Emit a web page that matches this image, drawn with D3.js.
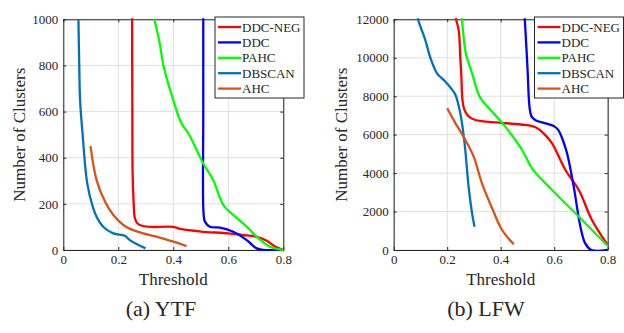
<!DOCTYPE html>
<html>
<head>
<meta charset="utf-8">
<script src="https://cdn.jsdelivr.net/npm/d3@7"></script>
<style>
  body { margin: 0; background: #fff; }
  svg text { font-family: "Liberation Serif", "DejaVu Serif", serif; fill: #262626; }
</style>
</head>
<body>
<svg id="chart" width="624" height="333"></svg>
<script>
// series names and colours (same for both panels)
const seriesNames = ["DDC-NEG", "DDC", "PAHC", "DBSCAN", "AHC"];
const seriesColors = ["#ff0000", "#0000ff", "#00ff00", "#0072bd", "#d95319"];

const xTicks = [0, 0.2, 0.4, 0.6, 0.8];
const ytfYTicks = [0, 200, 400, 600, 800, 1000];
const lfwYTicks = [0, 2000, 4000, 6000, 8000, 10000, 12000];

// YTF: [threshold, number of clusters]
const ytfDdcNeg = [[0.25, 1100], [0.251, 600], [0.252, 340], [0.256, 200], [0.26, 140], [0.27, 115], [0.29, 104], [0.32, 100], [0.4, 100], [0.43, 90], [0.5, 80], [0.6, 72], [0.65, 65], [0.7, 58], [0.74, 40], [0.77, 15], [0.8, 0]];
const ytfDdc = [[0.509, 1100], [0.509, 600], [0.51, 160], [0.515, 123], [0.533, 101], [0.57, 97], [0.618, 79], [0.667, 43], [0.703, 7], [0.727, 0], [0.78, 0]];
const ytfPahc = [[0.331, 1000], [0.35, 900], [0.364, 801], [0.4, 649], [0.43, 548], [0.455, 505], [0.509, 375], [0.545, 303], [0.582, 195], [0.618, 152], [0.667, 101], [0.709, 51], [0.752, 14], [0.8, 0]];
const ytfDbscan = [[0.055, 1000], [0.058, 800], [0.061, 649], [0.07, 505], [0.087, 289], [0.107, 188], [0.121, 144], [0.145, 101], [0.182, 72], [0.224, 62], [0.242, 43], [0.299, 7]];
const ytfAhc = [[0.099, 450], [0.121, 303], [0.152, 209], [0.182, 152], [0.228, 101], [0.291, 72], [0.339, 58], [0.4, 36], [0.448, 17]];

// LFW
const lfwDdcNeg = [[0.23, 12300], [0.233, 12000], [0.243, 11444], [0.249, 10000], [0.253, 9000], [0.257, 7800], [0.264, 7300], [0.28, 6950], [0.305, 6763], [0.393, 6624], [0.492, 6503], [0.535, 6350], [0.565, 6000], [0.592, 5549], [0.642, 4162], [0.692, 3121], [0.741, 1561], [0.8, 260]];
const lfwDdc = [[0.488, 12300], [0.49, 12000], [0.5, 9500], [0.508, 7400], [0.515, 6950], [0.53, 6750], [0.567, 6589], [0.598, 6451], [0.615, 6250], [0.63, 5800], [0.648, 5029], [0.673, 3295], [0.698, 1214], [0.716, 347], [0.739, 0], [0.8, 0]];
const lfwPahc = [[0.253, 12300], [0.255, 12000], [0.262, 11000], [0.27, 10200], [0.293, 9190], [0.318, 8063], [0.335, 7700], [0.361, 7300], [0.417, 6416], [0.48, 5202], [0.517, 4248], [0.592, 3121], [0.692, 1734], [0.8, 208]];
const lfwDbscan = [[0.088, 12300], [0.091, 12000], [0.118, 10924], [0.137, 10000], [0.162, 9190], [0.19, 8800], [0.215, 8400], [0.231, 8063], [0.249, 7109], [0.265, 5549], [0.28, 3295], [0.293, 1907], [0.302, 1214]];
const lfwAhc = [[0.2, 7370], [0.231, 6589], [0.268, 5722], [0.299, 4855], [0.33, 3468], [0.368, 2168], [0.405, 1040], [0.449, 295]];

const svg = d3.select("#chart");
const serif = "'Liberation Serif', 'DejaVu Serif', serif";

function drawPanel(p) {
  const x = d3.scaleLinear().domain([0, 0.8]).range([p.left, p.right]);
  const y = d3.scaleLinear().domain([0, p.yMax]).range([p.bottom, p.top]);
  const g = svg.append("g").attr("font-family", serif);

  // grid
  g.selectAll(".gx").data(xTicks).enter().append("line")
    .attr("x1", d => x(d)).attr("x2", d => x(d))
    .attr("y1", p.top).attr("y2", p.bottom)
    .attr("stroke", "#dfdfdf").attr("stroke-width", 1);
  g.selectAll(".gy").data(p.yTicks).enter().append("line")
    .attr("x1", p.left).attr("x2", p.right)
    .attr("y1", d => y(d)).attr("y2", d => y(d))
    .attr("stroke", "#dfdfdf").attr("stroke-width", 1);

  // axes with inward ticks
  const axB = g.append("g").attr("transform", "translate(0," + p.bottom + ")")
    .call(d3.axisBottom(x).tickValues(xTicks).tickSizeInner(-3).tickSizeOuter(0).tickPadding(5)
      .tickFormat(d => d === 0 ? "0" : d3.format(".1f")(d)));
  const axT = g.append("g").attr("transform", "translate(0," + p.top + ")")
    .call(d3.axisTop(x).tickValues(xTicks).tickSizeInner(-3).tickSizeOuter(0).tickFormat(""));
  const axL = g.append("g").attr("transform", "translate(" + p.left + ",0)")
    .call(d3.axisLeft(y).tickValues(p.yTicks).tickSizeInner(-3).tickSizeOuter(0).tickPadding(5)
      .tickFormat(d3.format("d")));
  const axR = g.append("g").attr("transform", "translate(" + p.right + ",0)")
    .call(d3.axisRight(y).tickValues(p.yTicks).tickSizeInner(-3).tickSizeOuter(0).tickFormat(""));
  [axB, axT, axL, axR].forEach(a => {
    a.attr("font-family", serif).attr("font-size", 13);
    a.selectAll("path").attr("stroke", "#262626");
    a.selectAll("line").attr("stroke", "#262626");
    a.selectAll("text").attr("fill", "#262626");
  });

  // clip
  const clipId = "clip-" + p.id;
  svg.append("clipPath").attr("id", clipId).append("rect")
    .attr("x", p.left).attr("y", p.top - 1)
    .attr("width", p.right - p.left + 1).attr("height", p.bottom - p.top + 2);

  const line = d3.line().x(d => x(d[0])).y(d => y(d[1]))
    .curve(d3.curveCatmullRom.alpha(0.5));
  g.append("g").attr("clip-path", "url(#" + clipId + ")")
    .selectAll("path").data(p.series).enter().append("path")
    .attr("d", d => line(d))
    .attr("fill", "none")
    .attr("stroke", (d, i) => seriesColors[i])
    .attr("stroke-width", 2.3)
    .attr("stroke-linejoin", "round");

  // axis labels
  g.append("text").attr("x", (p.left + p.right) / 2).attr("y", 285)
    .attr("text-anchor", "middle").attr("font-size", 17).text("Threshold");
  g.append("text")
    .attr("transform", "translate(" + p.yLabelX + "," + (p.top + p.bottom) / 2 + ") rotate(-90)")
    .attr("text-anchor", "middle").attr("font-size", 17).text("Number of Clusters");

  // caption
  g.append("text").attr("x", p.captionX).attr("y", 316)
    .attr("text-anchor", "middle").attr("font-size", 22).attr("fill", "#000").text(p.caption);

  // legend
  const lg = g.append("g").attr("transform", "translate(" + p.legendX + ",17)");
  lg.append("rect").attr("x", 0).attr("y", 0).attr("width", 89).attr("height", 81)
    .attr("fill", "#fff").attr("stroke", "#262626").attr("stroke-width", 1);
  seriesNames.forEach((name, i) => {
    const yy = 10 + i * 15.4;
    lg.append("line").attr("x1", 3).attr("x2", 26).attr("y1", yy).attr("y2", yy)
      .attr("stroke", seriesColors[i]).attr("stroke-width", 2.3);
    lg.append("text").attr("x", 27).attr("y", yy + 4.5)
      .attr("font-size", 13).attr("fill", "#000").text(name);
  });
}

drawPanel({
  id: "ytf", left: 63.3, right: 283.3, top: 19.3, bottom: 250, yMax: 1000,
  yTicks: ytfYTicks, yLabelX: 25, captionX: 161, caption: "(a) YTF", legendX: 215,
  series: [ytfDdcNeg, ytfDdc, ytfPahc, ytfDbscan, ytfAhc]
});
drawPanel({
  id: "lfw", left: 393.7, right: 607.7, top: 19.3, bottom: 250, yMax: 12000,
  yTicks: lfwYTicks, yLabelX: 347, captionX: 486, caption: "(b) LFW", legendX: 534.5,
  series: [lfwDdcNeg, lfwDdc, lfwPahc, lfwDbscan, lfwAhc]
});
</script>
</body>
</html>
